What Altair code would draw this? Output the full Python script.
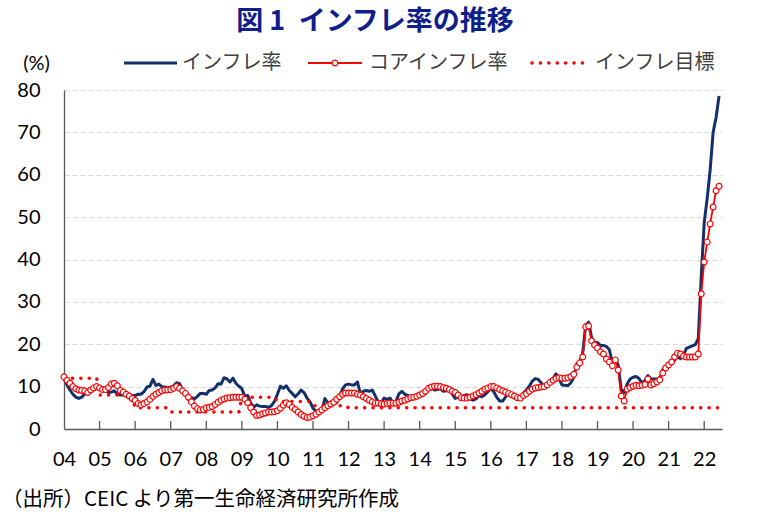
import altair as alt
import numpy as np
import pandas as pd

# Headline CPI inflation, y/y %, monthly from Jan 2004 to Jun 2022
headline = [
    12.0, 10.4, 9.2, 8.2, 7.5, 7.2, 7.5, 8.3, 9.0, 9.5, 9.8, 9.9,          # 2004
    9.8, 9.6, 9.0, 8.6, 8.7, 9.0, 8.2, 8.0, 8.1, 7.8, 7.8, 7.9,            # 2005
    7.9, 8.2, 8.2, 8.8, 9.9, 10.1, 11.7, 10.3, 10.6, 10.0, 9.9, 9.7,       # 2006
    9.9, 10.2, 10.9, 10.7, 9.2, 8.6, 6.9, 7.4, 7.1, 7.7, 8.4, 8.4,         # 2007
    8.2, 9.1, 9.2, 9.7, 10.7, 10.6, 12.1, 11.8, 11.1, 12.0, 10.8, 10.1,    # 2008
    9.5, 7.7, 7.9, 6.1, 5.2, 5.7, 5.4, 5.3, 5.3, 5.1, 5.5, 6.5,            # 2009
    8.2, 10.1, 9.6, 10.2, 9.1, 8.4, 7.6, 8.3, 9.2, 8.6, 7.3, 6.4,          # 2010
    4.9, 4.2, 4.0, 4.3, 7.2, 6.2, 6.3, 6.7, 6.2, 7.7, 9.5, 10.4,           # 2011
    10.6, 10.4, 10.4, 11.1, 8.3, 8.9, 9.1, 8.9, 9.2, 7.8, 6.4, 6.2,        # 2012
    7.3, 7.0, 7.3, 6.1, 6.5, 8.3, 8.9, 8.2, 7.9, 7.7, 7.3, 7.4,            # 2013
    7.8, 7.9, 8.4, 9.4, 9.7, 9.2, 9.3, 9.5, 8.9, 9.0, 9.2, 8.2,            # 2014
    7.2, 7.6, 7.6, 7.9, 8.1, 7.2, 6.8, 7.1, 7.9, 7.6, 8.1, 8.8,            # 2015
    9.6, 8.8, 7.5, 6.6, 6.6, 7.6, 8.8, 8.1, 7.3, 7.2, 7.0, 8.5,            # 2016
    9.2, 10.1, 11.3, 11.9, 11.7, 10.9, 9.8, 10.7, 11.2, 11.9, 13.0, 11.9,  # 2017
    10.4, 10.3, 10.2, 10.9, 12.2, 15.4, 15.9, 17.9, 24.5, 25.2, 21.6, 20.3,  # 2018
    20.4, 19.7, 19.7, 19.5, 18.7, 15.7, 16.7, 15.0, 9.3, 8.6, 10.6, 11.8,  # 2019
    12.2, 12.4, 11.9, 10.9, 11.4, 12.6, 11.8, 11.8, 11.8, 11.9, 14.0, 14.6,  # 2020
    15.0, 15.6, 16.2, 17.1, 16.6, 17.5, 19.0, 19.3, 19.6, 19.9, 21.3, 36.1,  # 2021
    48.7, 54.4, 61.1, 70.0, 73.5, 78.6,                                    # 2022
]

# Core inflation, y/y %, same months
core = [
    12.3, 11.5, 10.8, 10.0, 9.5, 9.2, 9.1, 9.0, 8.6, 9.2, 9.7, 10.0,       # 2004
    9.7, 9.3, 9.3, 9.8, 10.6, 10.8, 10.2, 9.1, 8.7, 8.2, 7.8, 7.2,         # 2005
    6.7, 6.0, 5.7, 6.0, 6.4, 7.0, 7.7, 8.2, 8.6, 9.0, 9.2, 9.2,            # 2006
    9.3, 9.6, 10.0, 9.6, 9.0, 8.4, 7.5, 6.4, 5.4, 4.8, 4.5, 4.6,           # 2007
    5.0, 5.1, 5.3, 5.8, 6.3, 6.8, 7.1, 7.3, 7.4, 7.5, 7.5, 7.5,            # 2008
    7.5, 7.0, 6.2, 5.0, 4.0, 3.2, 3.3, 3.6, 3.8, 4.0, 4.0, 4.1,            # 2009
    4.3, 4.9, 5.6, 6.2, 5.8, 5.1, 4.6, 4.0, 3.4, 3.0, 2.7, 2.8,            # 2010
    3.1, 3.5, 4.0, 4.5, 5.0, 5.5, 5.9, 6.3, 7.0, 7.6, 8.2, 8.5,            # 2011
    8.5, 8.5, 8.5, 8.2, 8.0, 7.6, 7.2, 6.8, 6.4, 6.1, 6.1, 6.0,            # 2012
    5.9, 6.0, 6.1, 6.1, 6.1, 6.3, 6.6, 6.8, 7.1, 7.4, 7.5, 7.7,            # 2013
    8.0, 8.4, 8.9, 9.6, 9.9, 10.1, 10.1, 10.0, 9.8, 9.6, 9.3, 8.9,         # 2014
    8.6, 8.0, 7.4, 7.3, 7.3, 7.5, 7.8, 8.1, 8.5, 8.9, 9.4, 9.7,            # 2015
    10.0, 10.0, 9.7, 9.3, 9.0, 8.7, 8.4, 8.1, 7.8, 7.4, 7.3, 7.9,          # 2016
    8.3, 8.9, 9.4, 9.7, 9.8, 9.9, 10.0, 10.4, 11.0, 11.5, 11.9, 12.1,      # 2017
    12.0, 12.0, 12.1, 12.4, 12.9, 14.6, 15.6, 17.0, 24.1, 24.3, 20.8, 19.8,  # 2018
    19.1, 18.2, 17.7, 16.5, 15.8, 14.9, 16.3, 13.9, 7.8, 6.6, 9.4, 9.8,    # 2019
    10.1, 10.3, 10.2, 10.3, 10.5, 11.8, 10.4, 10.7, 11.1, 11.6, 13.2, 14.4,  # 2020
    15.1, 15.8, 17.0, 17.9, 17.7, 17.2, 17.0, 17.0, 17.0, 17.0, 17.7, 31.9,  # 2021
    39.4, 44.1, 48.4, 52.4, 56.2, 57.3,                                    # 2022
]

# Annual inflation target, % (one value per calendar year 2004-2022)
target_rate = [12, 8, 5, 4, 4, 7.5, 6.5, 5.5, 5, 5, 5, 5, 5, 5, 5, 5, 5, 5, 5]

year_ticks = list(range(2004, 2023))
y_ticks = list(range(0, 90, 10))
legend_labels = ["インフレ率", "コアインフレ率", "インフレ目標"]
title_text = "図\u00a01\u2002インフレ率の推移"
source_text = "（出所）CEIC より第一生命経済研究所作成"

NAVY = "#13306B"
RED = "#FF0000"
TITLE_BLUE = "#0E1E8A"
AXIS = "#595959"
GRID = "#D9D9D9"
JP = "Noto Sans CJK JP"
NUM = "Lato"
W, H = 658, 339

n = len(headline)
df = pd.DataFrame({
    "t": 2004 + np.arange(n) / 12,
    "headline": headline,
    "core": core,
    "target": [target_rate[i // 12] for i in range(n)],
})

x_scale = alt.Scale(domain=[2004, 2022.5], nice=False, zero=False)
y_scale = alt.Scale(domain=[0, 80], nice=False)

x_axis = alt.Axis(
    values=year_ticks, labelExpr="format(datum.value % 100, '02d')",
    ticks=False, grid=False, domainColor=AXIS, domainWidth=1.3,
    labelFont=NUM, labelFontSize=20, labelColor="#000000", labelPadding=20,
    labelFlush=False, title=None,
)
y_axis = alt.Axis(
    values=y_ticks, ticks=False, grid=True, gridColor=GRID, gridDash=[5, 3],
    gridWidth=1, domainColor=AXIS, domainWidth=1.3,
    labelFont=NUM, labelFontSize=20, labelColor="#000000", labelPadding=24,
    title="(%)", titleAngle=0, titleX=-28, titleY=-27, titleAlign="center",
    titleBaseline="middle", titleFont=NUM, titleFontSize=20,
    titleFontWeight="normal", titleColor="#000000",
)

X = alt.X("t:Q", scale=x_scale, axis=x_axis)


def Y(field):
    return alt.Y(f"{field}:Q", scale=y_scale, axis=y_axis)


base = alt.Chart(df)

headline_line = base.mark_line(color=NAVY, strokeWidth=3, strokeJoin="round").encode(
    x=X, y=Y("headline"))

target_line = base.mark_line(
    color=RED, strokeWidth=3.5, strokeDash=[0.1, 8.3], strokeCap="round"
).encode(x=X, y=Y("target"))

core_line = base.mark_line(color=RED, strokeWidth=1.8, strokeJoin="round").encode(
    x=X, y=Y("core"))

core_points = base.mark_point(
    shape="circle", filled=True, fill="white", stroke=RED, strokeWidth=1.2,
    size=34, opacity=1,
).encode(x=X, y=Y("core"))

# inward tick marks at each year boundary on the x axis
tick_rules = alt.Chart(pd.DataFrame({"t": year_ticks[1:]})).mark_rule(
    color=AXIS, strokeWidth=1.3
).encode(x=X, y=alt.value(H), y2=alt.value(H - 8))

one = pd.DataFrame({"k": [0]})
LEG_Y = -27

leg_headline = alt.Chart(one).mark_rule(color=NAVY, strokeWidth=3).encode(
    x=alt.value(60), x2=alt.value(113), y=alt.value(LEG_Y))
leg_core = alt.Chart(one).mark_rule(color=RED, strokeWidth=1.8).encode(
    x=alt.value(244), x2=alt.value(298), y=alt.value(LEG_Y))
leg_core_pt = alt.Chart(one).mark_point(
    shape="circle", filled=True, fill="white", stroke=RED, strokeWidth=1.2,
    size=34, opacity=1,
).encode(x=alt.value(271), y=alt.value(LEG_Y))
leg_target = alt.Chart(one).mark_rule(
    color=RED, strokeWidth=3.5, strokeDash=[0.1, 8.3], strokeCap="round"
).encode(x=alt.value(468), x2=alt.value(522), y=alt.value(LEG_Y))


def leg_text(label, px):
    return alt.Chart(one).mark_text(
        text=label, font=JP, fontSize=20, color="#404040",
        align="left", baseline="middle",
    ).encode(x=alt.value(px), y=alt.value(LEG_Y))


title_mark = alt.Chart(one).mark_text(
    text=title_text, font=JP, fontSize=27, fontWeight="bold", color=TITLE_BLUE,
    align="center", baseline="middle",
).encode(x=alt.value(311), y=alt.value(-68))

source_mark = alt.Chart(one).mark_text(
    text=source_text, font=JP, fontSize=20.5, color="#000000",
    align="left", baseline="middle",
).encode(x=alt.value(-62), y=alt.value(410))

chart = alt.layer(
    headline_line, target_line, core_line, core_points, tick_rules,
    leg_headline, leg_core, leg_core_pt, leg_target,
    leg_text(legend_labels[0], 118), leg_text(legend_labels[1], 305),
    leg_text(legend_labels[2], 531),
    title_mark, source_mark,
).properties(
    width=W, height=H,
    padding={"left": 64, "top": 90, "right": 35, "bottom": 99},
    autosize=alt.AutoSizeParams(type="none"),
    background="white",
).configure_view(stroke=None)

chart.save("out.html", embed_options={"renderer": "svg", "actions": False})
